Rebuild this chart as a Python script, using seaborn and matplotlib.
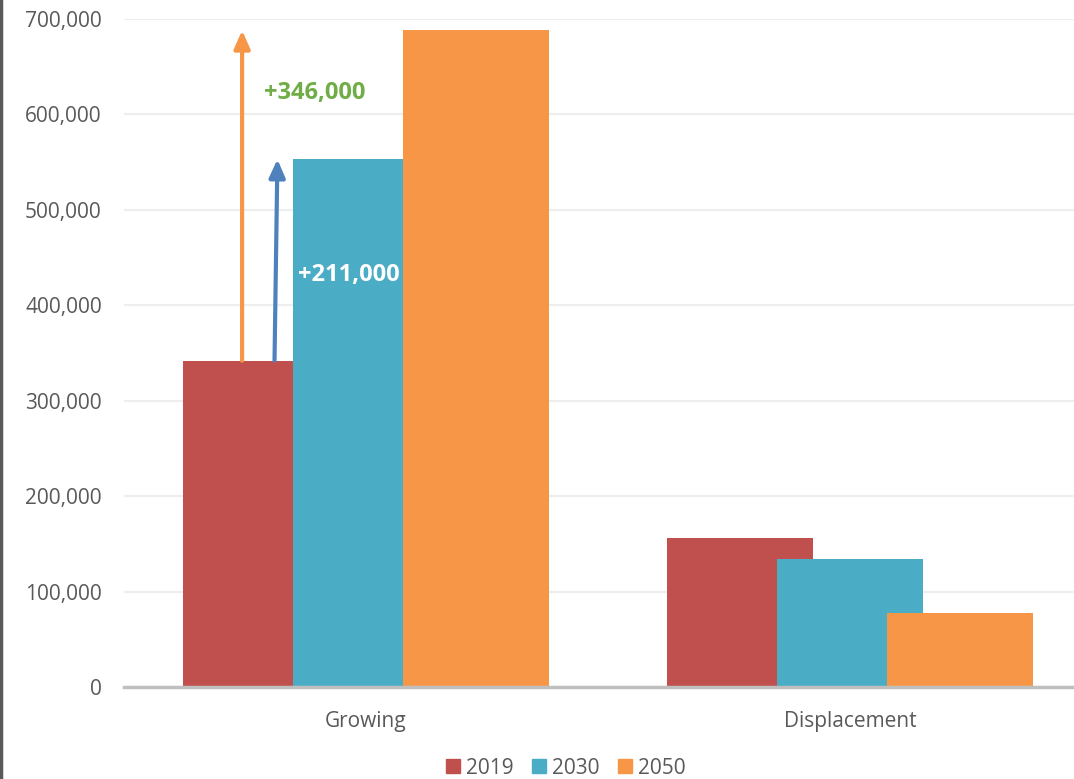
import matplotlib
matplotlib.use("Agg")
import matplotlib.pyplot as plt
from matplotlib.lines import Line2D
import seaborn as sns
import pandas as pd

categories = ["Growing", "Displacement"]
years = ["2019", "2030", "2050"]
v2019 = [342000, 156000]
v2030 = [553000, 134000]
v2050 = [688000, 78000]
colors = ["#c0504d", "#4bacc6", "#f79646"]
yticks = [0, 100000, 200000, 300000, 400000, 500000, 600000, 700000]

rows = []
for yr, vals in zip(years, [v2019, v2030, v2050]):
    for c, v in zip(categories, vals):
        rows.append({"category": c, "year": yr, "value": v})
df = pd.DataFrame(rows)

sns.set_theme(style="white")
plt.rcParams["font.family"] = ["Open Sans", "DejaVu Sans"]
TXT = "#595959"

fig = plt.figure(figsize=(10.74, 7.79), dpi=100)
W, H = 1074, 779
ax = fig.add_axes([124 / W, (H - 687) / H, 968 / W, 668 / H])

sns.barplot(data=df, x="category", y="value", hue="year", palette=colors,
            width=0.682, dodge=True, ax=ax, legend=False, saturation=1)

# widen bars so they overlap like the original
bw = 0.3017
for p in ax.patches:
    cx = p.get_x() + p.get_width() / 2
    p.set_width(bw)
    p.set_x(cx - bw / 2)
    p.set_edgecolor("none")

ax.set_xlim(-0.5, 1.5)
ax.set_ylim(0, 700000)
ax.set_yticks(yticks)
ax.set_yticklabels([f"{t:,}" for t in yticks], fontsize=15, color=TXT)
ax.tick_params(axis="y", length=0, pad=16)
ax.tick_params(axis="x", length=0, pad=17, labelsize=15, labelcolor=TXT)
ax.set_xlabel("")
ax.set_ylabel("")
ax.yaxis.grid(True, color="#eeeeee", lw=1.6)
ax.set_axisbelow(True)
for s in ["top", "right", "left"]:
    ax.spines[s].set_visible(False)
ax.spines["bottom"].set_color("#bfbfbf")
ax.spines["bottom"].set_linewidth(2.5)
ax.spines["bottom"].set_zorder(5)

# annotation arrows
ax.annotate("", xy=(-0.256, v2050[0]), xytext=(-0.256, v2019[0]),
            arrowprops=dict(arrowstyle="-|>,head_length=0.9,head_width=0.4",
                            color="#f79646", lw=3, shrinkA=0, shrinkB=0))
ax.annotate("", xy=(-0.183, v2030[0]), xytext=(-0.189, v2019[0]),
            arrowprops=dict(arrowstyle="-|>,head_length=0.9,head_width=0.4",
                            color="#4f81bd", lw=3, shrinkA=0, shrinkB=0))
ax.text(-0.211, 622000, f"+{v2050[0] - v2019[0]:,}", color="#70ad47",
        fontsize=17, fontweight="bold", va="center", ha="left")
ax.text(-0.141, 432000, f"+{v2030[0] - v2019[0]:,}", color="white",
        fontsize=17, fontweight="bold", va="center", ha="left", zorder=10)

# legend
handles = [plt.Rectangle((0, 0), 1, 1, color=c) for c in colors]
fig.legend(handles, years, loc="center", bbox_to_anchor=(566 / W, (H - 768) / H),
           ncol=3, frameon=False, fontsize=15, labelcolor=TXT,
           handlelength=0.65, handleheight=0.65, handletextpad=0.3,
           columnspacing=0.9, borderpad=0.1)

fig.add_artist(Line2D([1 / W, 1 / W], [0, 1], color="#595959", lw=2.5))

fig.savefig("out.png", dpi=100)
